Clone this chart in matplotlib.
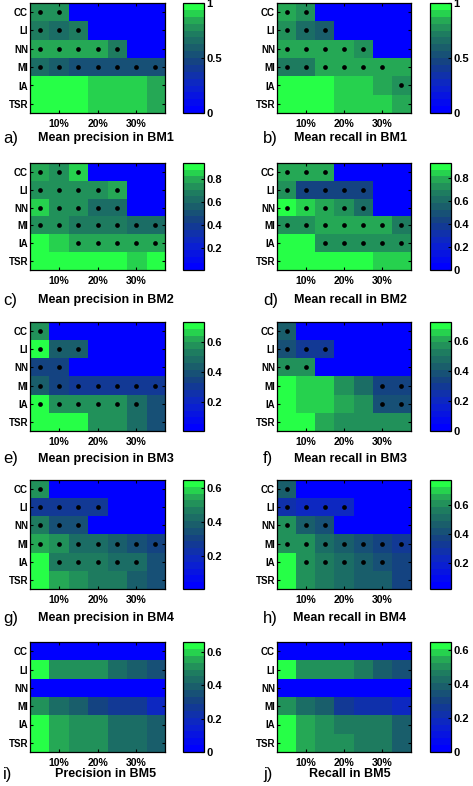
import matplotlib.pyplot as plt
import numpy as np
from matplotlib.colors import LinearSegmentedColormap

plt.rcParams['font.family'] = ['Liberation Sans', 'DejaVu Sans']

methods = ['CC', 'LI', 'NN', 'MI', 'IA', 'TSR']
missing = ['5%', '10%', '15%', '20%', '25%', '30%', '35%']
xlabels = ['10%', '20%', '30%']

# mean values per method (rows) and missing rate (cols), 0 = not available
prec_bm1 = [[0.80, 0.78, 0, 0, 0, 0, 0],
            [0.72, 0.66, 0.72, 0, 0, 0, 0],
            [0.84, 0.84, 0.82, 0.82, 0.74, 0, 0],
            [0.68, 0.60, 0.52, 0.52, 0.52, 0.52, 0.55],
            [1.00, 1.00, 1.00, 0.90, 0.90, 0.90, 0.84],
            [1.00, 1.00, 1.00, 0.90, 0.90, 0.90, 0.82]]
prec_bm1_sig = [[1, 1, 0, 0, 0, 0, 0],
                [1, 1, 1, 0, 0, 0, 0],
                [1, 1, 1, 1, 1, 0, 0],
                [1, 1, 1, 1, 1, 1, 1],
                [0, 0, 0, 0, 0, 0, 0],
                [0, 0, 0, 0, 0, 0, 0]]

rec_bm1 = [[0.83, 0.78, 0, 0, 0, 0, 0],
           [0.75, 0.65, 0.62, 0, 0, 0, 0],
           [0.87, 0.87, 0.87, 0.87, 0.78, 0, 0],
           [0.70, 0.70, 0.83, 0.83, 0.83, 0.83, 0.83],
           [1.00, 1.00, 1.00, 0.92, 0.92, 0.82, 0.78],
           [1.00, 1.00, 1.00, 0.92, 0.92, 0.92, 0.85]]
rec_bm1_sig = [[1, 1, 0, 0, 0, 0, 0],
               [1, 1, 1, 0, 0, 0, 0],
               [1, 1, 1, 1, 1, 0, 0],
               [1, 1, 1, 1, 1, 1, 0],
               [0, 0, 0, 0, 0, 0, 1],
               [0, 0, 0, 0, 0, 0, 0]]

prec_bm2 = [[0.82, 0.76, 0.85, 0, 0, 0, 0],
            [0.72, 0.72, 0.72, 0.72, 0.80, 0, 0],
            [0.85, 0.75, 0.72, 0.60, 0.62, 0, 0],
            [0.75, 0.75, 0.70, 0.70, 0.70, 0.60, 0.62],
            [0.93, 0.85, 0.80, 0.80, 0.80, 0.80, 0.82],
            [0.93, 0.93, 0.93, 0.93, 0.93, 0.83, 0.93]]
prec_bm2_sig = [[1, 1, 1, 0, 0, 0, 0],
                [1, 1, 1, 1, 1, 0, 0],
                [1, 1, 1, 1, 1, 0, 0],
                [1, 1, 1, 1, 1, 1, 1],
                [0, 0, 1, 1, 1, 1, 1],
                [0, 0, 0, 0, 0, 0, 0]]

rec_bm2 = [[0.80, 0.80, 0.80, 0, 0, 0, 0],
           [0.70, 0.45, 0.45, 0.45, 0.45, 0, 0],
           [0.92, 0.85, 0.80, 0.70, 0.60, 0, 0],
           [0.75, 0.75, 0.80, 0.80, 0.80, 0.80, 0.65],
           [0.93, 0.93, 0.75, 0.75, 0.75, 0.75, 0.72],
           [0.93, 0.93, 0.93, 0.93, 0.93, 0.82, 0.82]]
rec_bm2_sig = [[1, 1, 1, 0, 0, 0, 0],
               [1, 1, 1, 1, 1, 0, 0],
               [1, 1, 1, 1, 1, 0, 0],
               [1, 1, 1, 1, 1, 1, 1],
               [0, 0, 1, 1, 1, 1, 1],
               [0, 0, 0, 0, 0, 0, 0]]

prec_bm3 = [[0.55, 0, 0, 0, 0, 0, 0],
            [0.72, 0.45, 0.45, 0, 0, 0, 0],
            [0.35, 0.35, 0, 0, 0, 0, 0],
            [0.45, 0.35, 0.30, 0.30, 0.30, 0.30, 0.30],
            [0.72, 0.55, 0.55, 0.55, 0.55, 0.50, 0.40],
            [0.72, 0.72, 0.72, 0.55, 0.55, 0.50, 0.40]]
prec_bm3_sig = [[1, 0, 0, 0, 0, 0, 0],
                [1, 1, 1, 0, 0, 0, 0],
                [1, 1, 0, 0, 0, 0, 0],
                [1, 1, 1, 1, 1, 1, 1],
                [1, 1, 1, 1, 1, 1, 0],
                [0, 0, 0, 0, 0, 0, 0]]

rec_bm3 = [[0.45, 0, 0, 0, 0, 0, 0],
           [0.40, 0.30, 0.30, 0, 0, 0, 0],
           [0.55, 0.55, 0, 0, 0, 0, 0],
           [0.73, 0.65, 0.65, 0.55, 0.50, 0.35, 0.35],
           [0.73, 0.65, 0.65, 0.60, 0.55, 0.40, 0.40],
           [0.73, 0.73, 0.62, 0.55, 0.55, 0.55, 0.55]]
rec_bm3_sig = [[1, 0, 0, 0, 0, 0, 0],
               [1, 1, 1, 0, 0, 0, 0],
               [1, 1, 0, 0, 0, 0, 0],
               [0, 0, 0, 0, 0, 1, 1],
               [0, 0, 0, 0, 0, 1, 1],
               [0, 0, 0, 0, 0, 0, 0]]

prec_bm4 = [[0.50, 0, 0, 0, 0, 0, 0],
            [0.25, 0.25, 0.25, 0.25, 0, 0, 0],
            [0.45, 0.35, 0.35, 0, 0, 0, 0],
            [0.55, 0.50, 0.42, 0.42, 0.40, 0.35, 0.32],
            [0.64, 0.45, 0.45, 0.45, 0.42, 0.42, 0.35],
            [0.64, 0.55, 0.52, 0.48, 0.45, 0.40, 0.35]]
prec_bm4_sig = [[1, 0, 0, 0, 0, 0, 0],
                [1, 1, 1, 1, 0, 0, 0],
                [1, 1, 1, 0, 0, 0, 0],
                [1, 1, 1, 1, 1, 1, 1],
                [0, 1, 1, 1, 1, 1, 0],
                [0, 0, 0, 0, 0, 0, 0]]

rec_bm4 = [[0.45, 0, 0, 0, 0, 0, 0],
           [0.30, 0.25, 0.25, 0.25, 0, 0, 0],
           [0.60, 0.45, 0.40, 0, 0, 0, 0],
           [0.60, 0.60, 0.50, 0.45, 0.40, 0.35, 0.32],
           [0.75, 0.60, 0.55, 0.50, 0.45, 0.40, 0.35],
           [0.75, 0.60, 0.55, 0.50, 0.45, 0.45, 0.35]]
rec_bm4_sig = [[1, 0, 0, 0, 0, 0, 0],
               [1, 1, 1, 1, 0, 0, 0],
               [1, 1, 1, 0, 0, 0, 0],
               [1, 1, 1, 1, 1, 1, 1],
               [0, 1, 1, 1, 1, 1, 0],
               [0, 0, 0, 0, 0, 0, 0]]

prec_bm5 = [[0, 0, 0, 0, 0, 0, 0],
            [0.65, 0.52, 0.52, 0.50, 0.45, 0.40, 0.35],
            [0, 0, 0, 0, 0, 0, 0],
            [0.50, 0.42, 0.38, 0.30, 0.25, 0.25, 0.20],
            [0.65, 0.55, 0.52, 0.50, 0.45, 0.45, 0.40],
            [0.65, 0.55, 0.52, 0.50, 0.45, 0.45, 0.40]]

rec_bm5 = [[0, 0, 0, 0, 0, 0, 0],
           [0.62, 0.52, 0.52, 0.52, 0.45, 0.38, 0.35],
           [0, 0, 0, 0, 0, 0, 0],
           [0.50, 0.42, 0.38, 0.28, 0.22, 0.22, 0.18],
           [0.62, 0.55, 0.52, 0.48, 0.45, 0.45, 0.40],
           [0.62, 0.55, 0.52, 0.50, 0.45, 0.45, 0.38]]
no_sig = [[0] * 7 for _ in range(6)]

panels = [
    ('a)', 'Mean precision in BM1', prec_bm1, prec_bm1_sig, (0, 1), [0, 0.5, 1]),
    ('b)', 'Mean recall in BM1', rec_bm1, rec_bm1_sig, (0, 1), [0, 0.5, 1]),
    ('c)', 'Mean precision in BM2', prec_bm2, prec_bm2_sig, (0.01, 0.94), [0.2, 0.4, 0.6, 0.8]),
    ('d)', 'Mean recall in BM2', rec_bm2, rec_bm2_sig, (0, 0.93), [0, 0.2, 0.4, 0.6, 0.8]),
    ('e)', 'Mean precision in BM3', prec_bm3, prec_bm3_sig, (0.01, 0.73), [0.2, 0.4, 0.6]),
    ('f)', 'Mean recall in BM3', rec_bm3, rec_bm3_sig, (0, 0.73), [0, 0.2, 0.4, 0.6]),
    ('g)', 'Mean precision in BM4', prec_bm4, prec_bm4_sig, (0.005, 0.645), [0.2, 0.4, 0.6]),
    ('h)', 'Mean recall in BM4', rec_bm4, rec_bm4_sig, (0.02, 0.77), [0.2, 0.4, 0.6]),
    ('i)', 'Precision in BM5', prec_bm5, no_sig, (0, 0.66), [0, 0.2, 0.4, 0.6]),
    ('j)', 'Recall in BM5', rec_bm5, no_sig, (0, 0.65), [0, 0.2, 0.4, 0.6]),
]

cmap = LinearSegmentedColormap.from_list('bg', [
    (0.0, (0.0, 0.0, 1.0)),
    (0.25, (0.05, 0.15, 0.78)),
    (0.45, (0.08, 0.25, 0.52)),
    (0.6, (0.1, 0.37, 0.42)),
    (0.75, (0.12, 0.5, 0.37)),
    (0.88, (0.15, 0.68, 0.33)),
    (1.0, (0.15, 1.0, 0.28))], N=16)

W, H = 473, 786
fig = plt.figure(figsize=(W / 100, H / 100), dpi=100)

# pixel layout: (top, bottom) per row, heatmap x per column
row_px = [(3, 113), (163, 270), (322, 431), (480, 589), (642, 752)]
title_y = [138, 300, 459, 618, 774]
col_px = [(30, 165), (277, 411)]
cb_px = [(183, 204), (430, 451)]
letter_x = [3, 263]
title_x = [106, 350]

for k, (letter, title, vals, sig, clim, cticks) in enumerate(panels):
    r, c = k // 2, k % 2
    top, bot = row_px[r]
    x0, x1 = col_px[c]
    ax = fig.add_axes([x0 / W, 1 - bot / H, (x1 - x0) / W, (bot - top) / H])
    data = np.array(vals, dtype=float)
    im = ax.imshow(data, cmap=cmap, vmin=clim[0], vmax=clim[1], aspect='auto',
                   interpolation='nearest')
    s = np.array(sig)
    yy, xx = np.nonzero(s)
    ax.plot(xx, yy, 'o', color='black', markersize=3.4, markeredgewidth=0)
    ax.set_xlim(-0.5, len(missing) - 0.5)
    ax.set_ylim(len(methods) - 0.5, -0.5)
    ax.set_yticks(range(len(methods)))
    ax.set_yticklabels(methods, fontsize=7, fontweight='bold')
    ax.set_xticks([1, 3, 5])
    ax.set_xticklabels(xlabels, fontsize=7.5, fontweight='bold')
    ax.tick_params(direction='in', length=2, width=0.8, top=True, right=True, pad=4)
    ax.tick_params(axis='y', pad=1.5)
    for sp in ax.spines.values():
        sp.set_linewidth(0.9)

    cx0, cx1 = cb_px[c]
    cax = fig.add_axes([cx0 / W, 1 - bot / H, (cx1 - cx0) / W, (bot - top) / H])
    cb = fig.colorbar(im, cax=cax)
    cb.set_ticks(cticks)
    cb.set_ticklabels([f'{t:g}' for t in cticks])
    cax.tick_params(direction='in', length=2, width=0.8, pad=1.5, labelsize=8)
    for lab in cax.get_yticklabels():
        lab.set_fontweight('bold')
    cb.outline.set_linewidth(0.9)

    fig.text(letter_x[c] / W, 1 - title_y[r] / H, letter, fontsize=12,
             ha='left', va='center')
    fig.text(title_x[c] / W, 1 - title_y[r] / H, title, fontsize=9,
             fontweight='bold', ha='center', va='center')

fig.savefig('out.png', dpi=100)
